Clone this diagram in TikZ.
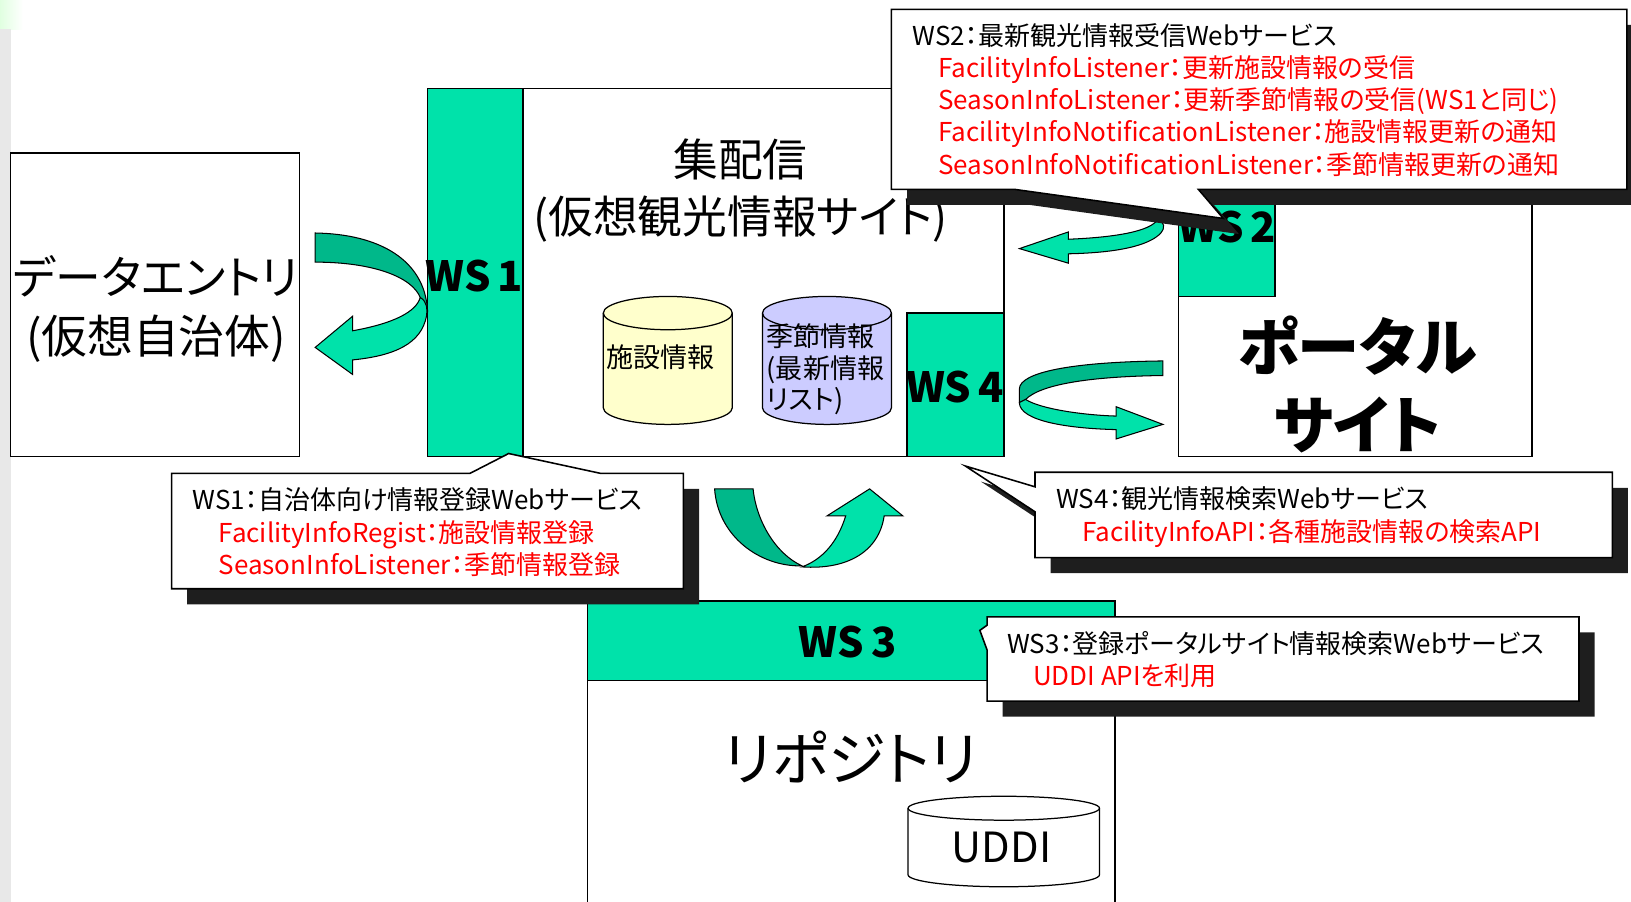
\documentclass[tikz,border=0pt]{standalone}
\usepackage{fontspec}
\setmainfont{Noto Sans CJK JP}
\newfontfamily\jpprop{Noto Sans CJK JP}[RawFeature=+palt]
\usetikzlibrary{positioning}
\definecolor{wsgreen}{RGB}{0,226,170}
\definecolor{wsdark}{RGB}{0,184,138}
\definecolor{dbyellow}{RGB}{255,255,204}
\definecolor{dbblue}{RGB}{204,204,255}
\definecolor{shade}{RGB}{30,30,30}
\definecolor{stripgray}{RGB}{232,232,232}
\tikzstyle{sysbox} = [draw=black, line width=1.5pt, fill=white]
\tikzstyle{wsbox} = [draw=black, line width=1.5pt, fill=wsgreen]
\tikzstyle{wslabel} = [font=\fontsize{40}{40}\selectfont\bfseries, inner sep=0pt]
\tikzstyle{biglabel} = [font=\jpprop\fontsize{44}{57}\selectfont, align=center, inner sep=0pt]
\tikzstyle{callout} = [draw=black, line width=1.5pt, fill=white]
\tikzstyle{calloutshadow} = [fill=shade]
\tikzstyle{calltext} = [font=\jpprop\fontsize{25}{31}\selectfont, align=left, inner sep=0pt, anchor=north west]
\tikzstyle{ribbon} = [draw=black, line width=1pt, fill=wsgreen]
\tikzstyle{ribbonback} = [draw=black, line width=1pt, fill=wsdark]
\tikzstyle{db} = [draw=black, line width=1.2pt]

\begin{document}
\begin{tikzpicture}[x=1pt, y=-1pt]
\useasboundingbox (0,0) rectangle (1568,867);
\shade[left color=green!12, right color=white] (0,0) rectangle (22,28);
\fill[stripgray] (0,28) rectangle (11,867);

% data entry
\draw[sysbox] (10,147) rectangle (288,439);
\node[biglabel] (entry) at (150,297) {データエントリ\\(仮想自治体)};

% hub site with WS1 and WS4
\draw[sysbox] (411,85) rectangle (965,439);
\draw[wsbox] (411,85) rectangle (503,439);
\draw[wsbox] (872,301) rectangle (965,439);
\node[biglabel, font=\jpprop\fontsize{43}{55}\selectfont] (hub) at (712,183) {集配信\\(仮想観光情報サイト)};
\node[wslabel] (ws1) at (456,265) {WS\,1};
\node[wslabel] (ws4) at (918,372) {WS\,4};

% databases
\filldraw[db, fill=dbyellow] (580,301) -- (580,392) arc[start angle=180, end angle=0, x radius=62, y radius=16] -- (704,301) arc[start angle=0, end angle=-180, x radius=62, y radius=16] -- cycle;
\draw[db] (580,301) arc[start angle=180, end angle=0, x radius=62, y radius=16];
\node[font=\fontsize{26}{30}\selectfont] (facility) at (635,343) {施設情報};
\filldraw[db, fill=dbblue] (733,301) -- (733,392) arc[start angle=180, end angle=0, x radius=62, y radius=16] -- (857,301) arc[start angle=0, end angle=-180, x radius=62, y radius=16] -- cycle;
\draw[db] (733,301) arc[start angle=180, end angle=0, x radius=62, y radius=16];
\node[font=\jpprop\fontsize{26}{30}\selectfont, align=left, inner sep=0pt, anchor=west] (season) at (737,355) {季節情報\\(最新情報\\リスト)};

% portal site with WS2
\draw[sysbox] (1133,190) rectangle (1473,439);
\draw[wsbox] (1133,190) rectangle (1226,285);
\node[wslabel] (ws2) at (1180,218) {WS\,2};
\node[biglabel, font=\jpprop\bfseries\fontsize{60}{75}\selectfont] (portal) at (1305,370) {ポータル\\サイト};

% repository with WS3
\draw[sysbox] (565,578) rectangle (1072,880);
\draw[wsbox] (565,578) rectangle (1072,654);
\node[wslabel] (ws3) at (815,617) {WS\,3};
\node[biglabel, font=\jpprop\fontsize{56}{56}\selectfont] (repo) at (818,728) {リポジトリ};
\filldraw[db, fill=white] (873,777) -- (873,841) arc[start angle=180, end angle=0, x radius=92, y radius=11.5] -- (1057,777) arc[start angle=0, end angle=-180, x radius=92, y radius=11.5] -- cycle;
\draw[db] (873,777) arc[start angle=180, end angle=0, x radius=92, y radius=11.5];
\node[font=\fontsize{40}{40}\selectfont] (uddi) at (963,815) {UDDI};

% ribbon arrows
\filldraw[ribbonback] (303,224) .. controls (365,225) and (408,250) .. (411,298) -- (404,286) .. controls (396,266) and (358,252) .. (303,252) -- cycle;
\filldraw[ribbon] (303,334) -- (339,304) -- (339,318) .. controls (378,311) and (400,300) .. (404,286) .. controls (411,290) and (411,298) .. (410,304) .. controls (405,330) and (380,342) .. (339,346) -- (339,360) -- cycle;

\filldraw[ribbon] (980,239) -- (1027,223) -- (1027,230) .. controls (1075,228) and (1106,222) .. (1113,211) .. controls (1120,213) and (1120,220) .. (1116,224) .. controls (1105,236) and (1075,243) .. (1027,244) -- (1027,253) -- cycle;

\filldraw[ribbonback] (1118,347) .. controls (1030,348) and (980,358) .. (980,374) -- (980,387) -- (986,384) .. controls (1000,370) and (1045,362) .. (1118,361) -- cycle;
\filldraw[ribbon] (986,384) .. controls (1000,393) and (1040,399) .. (1073,400) -- (1073,391) -- (1118,408) -- (1073,422) -- (1073,413) .. controls (1028,412) and (980,405) .. (980,387) -- cycle;

\filldraw[ribbonback] (687,470) -- (724,470) .. controls (727,500) and (745,532) .. (771,544) .. controls (730,545) and (690,515) .. (687,470) -- cycle;
\filldraw[ribbon] (771,545) .. controls (815,548) and (845,530) .. (850,496) -- (868,496) -- (836,470) -- (795,496) -- (813,496) .. controls (805,522) and (790,538) .. (771,545) -- cycle;

% callout WS1
\fill[calloutshadow, shift={(15,15)}] (165,455) -- (452,455) -- (489,436) -- (577,455) -- (657,455) -- (657,566) -- (165,566) -- cycle;
\draw[callout] (165,455) -- (452,455) -- (489,436) -- (577,455) -- (657,455) -- (657,566) -- (165,566) -- cycle;
\node[calltext] (ws1note) at (185,469) {WS1：自治体向け情報登録Webサービス\\
  \textcolor{red}{\quad FacilityInfoRegist：施設情報登録}\\
  \textcolor{red}{\quad SeasonInfoListener：季節情報登録}};

% callout WS4
\fill[calloutshadow, shift={(15,15)}] (995,454) -- (1550,454) -- (1550,536) -- (995,536) -- (995,492) -- (928,448) -- (995,468) -- cycle;
\draw[callout] (995,454) -- (1550,454) -- (1550,536) -- (995,536) -- (995,492) -- (928,448) -- (995,468) -- cycle;
\node[calltext] (ws4note) at (1015,468) {WS4：観光情報検索Webサービス\\
  \textcolor{red}{\quad FacilityInfoAPI：各種施設情報の検索API}};

% callout WS3
\fill[calloutshadow, shift={(15,15)}] (949,593) -- (1518,593) -- (1518,674) -- (949,674) -- (949,625) -- (942,606) -- (949,601) -- cycle;
\draw[callout] (949,593) -- (1518,593) -- (1518,674) -- (949,674) -- (949,625) -- (942,606) -- (949,601) -- cycle;
\node[calltext] (ws3note) at (968,607) {WS3：登録ポータルサイト情報検索Webサービス\\
  \textcolor{red}{\quad UDDI APIを利用}};

% callout WS2
\fill[calloutshadow, shift={(15,15)}] (857,9) -- (1564,9) -- (1564,182) -- (1152,182) -- (1176,210) -- (975,182) -- (857,182) -- cycle;
\draw[callout] (857,9) -- (1564,9) -- (1564,182) -- (1152,182) -- (1176,210) -- (975,182) -- (857,182) -- cycle;
\node[calltext] (ws2note) at (877,22) {WS2：最新観光情報受信Webサービス\\
  \textcolor{red}{\quad FacilityInfoListener：更新施設情報の受信}\\
  \textcolor{red}{\quad SeasonInfoListener：更新季節情報の受信(WS1と同じ)}\\
  \textcolor{red}{\quad FacilityInfoNotificationListener：施設情報更新の通知}\\
  \textcolor{red}{\quad SeasonInfoNotificationListener：季節情報更新の通知}};
\end{tikzpicture}
\end{document}
